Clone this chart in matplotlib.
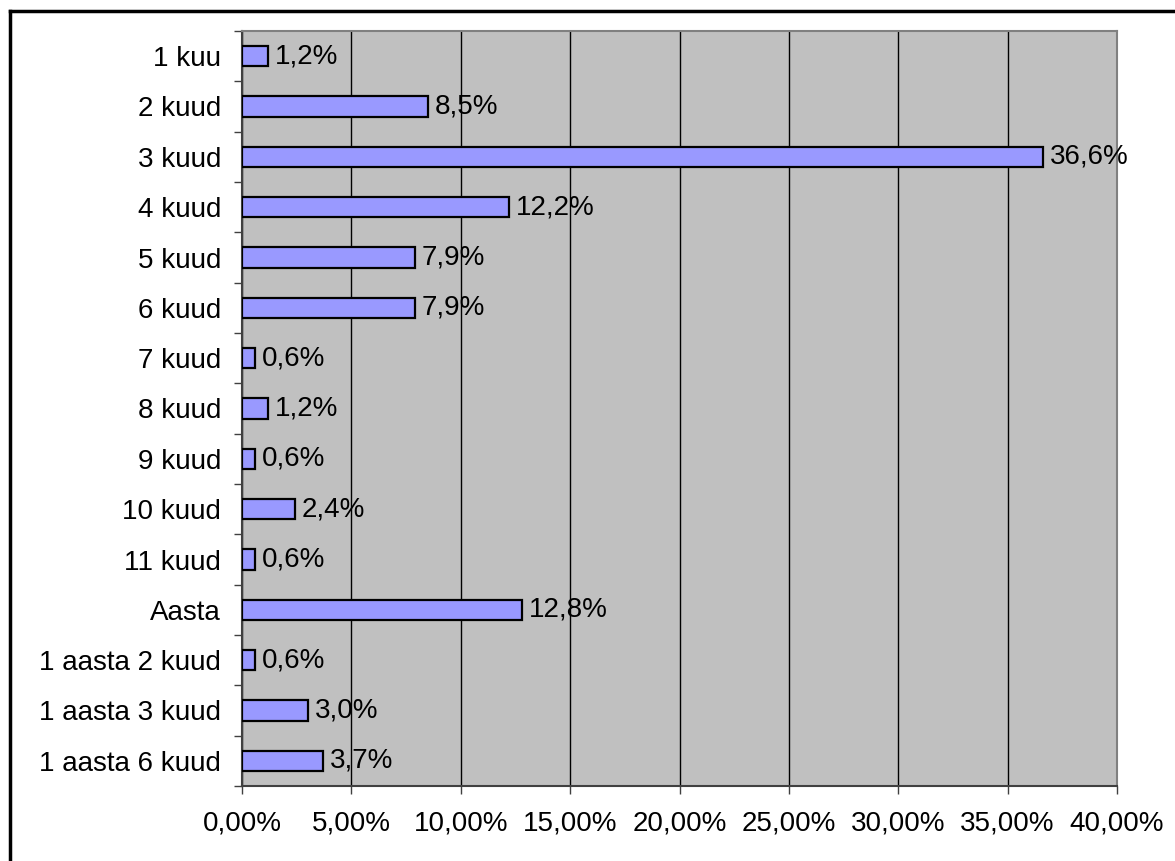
import matplotlib
matplotlib.use("Agg")
import matplotlib.pyplot as plt
from matplotlib.lines import Line2D

categories = ["1 kuu", "2 kuud", "3 kuud", "4 kuud", "5 kuud", "6 kuud", "7 kuud",
              "8 kuud", "9 kuud", "10 kuud", "11 kuud", "Aasta",
              "1 aasta 2 kuud", "1 aasta 3 kuud", "1 aasta 6 kuud"]
values = [1.2, 8.5, 36.6, 12.2, 7.9, 7.9, 0.6, 1.2, 0.6, 2.4, 0.6, 12.8, 0.6, 3.0, 3.7]
xticks = [0, 5, 10, 15, 20, 25, 30, 35, 40]
xtick_labels = ["0,00%", "5,00%", "10,00%", "15,00%", "20,00%", "25,00%", "30,00%", "35,00%", "40,00%"]

plt.rcParams['font.family'] = ['Liberation Sans', 'DejaVu Sans']
fs = 20

fig = plt.figure(figsize=(11.75, 8.61), dpi=100)
ax = fig.add_axes([242/1175, 1-786/861, (1117-242)/1175, (786-31)/861])
ax.set_facecolor('#C0C0C0')

n = len(categories)
ypos = list(range(n))
ax.barh(ypos, values, height=0.4, color='#9999FF', edgecolor='black', linewidth=1.6, zorder=3)
for y, v in zip(ypos, values):
    ax.annotate(f"{v:.1f}".replace('.', ',') + "%", (v, y), xytext=(5, 0),
                textcoords='offset points', va='center', ha='left', fontsize=fs, zorder=4)

ax.set_xlim(0, 40)
ax.set_ylim(n - 0.5, -0.5)
ax.set_xticks(xticks)
ax.set_xticklabels(xtick_labels, fontsize=fs)
ax.set_yticks(ypos)
ax.set_yticklabels(categories, fontsize=fs)
ax.set_yticks([i - 0.5 for i in range(n + 1)], minor=True)
ax.tick_params(axis='y', which='major', length=0, pad=15)
ax.tick_params(axis='y', which='minor', length=6, width=1, color='#404040')
ax.tick_params(axis='x', which='major', length=6, width=1, color='#404040', pad=12)
ax.grid(axis='x', color='black', linewidth=1, zorder=1)

for side in ['top', 'right']:
    ax.spines[side].set_color('#808080')
    ax.spines[side].set_linewidth(1.5)
for side in ['left', 'bottom']:
    ax.spines[side].set_color('#404040')
    ax.spines[side].set_linewidth(1.5)

# outer chart border (left and top visible)
fig.add_artist(Line2D([10/1175, 10/1175], [0, 1-11/861], transform=fig.transFigure, color='black', linewidth=2.5))
fig.add_artist(Line2D([10/1175, 1], [1-11/861, 1-11/861], transform=fig.transFigure, color='black', linewidth=2.5))

fig.savefig("out.png", dpi=100)
